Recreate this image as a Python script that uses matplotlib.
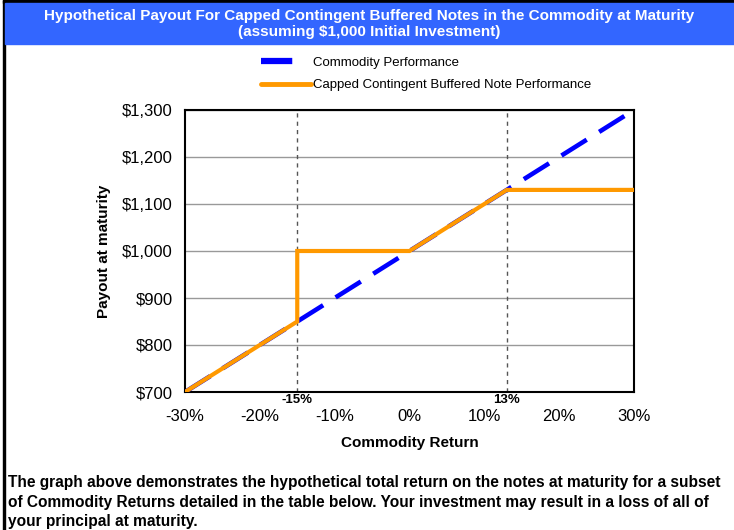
import numpy as np
import matplotlib.pyplot as plt
from matplotlib.lines import Line2D
from matplotlib.patches import Rectangle
from matplotlib.ticker import FuncFormatter

# data
commodity_x = [-30, 30]
commodity_payout = [700, 1300]
note_x = [-30, -15, -15, 0, 13, 30]
note_payout = [700, 850, 1000, 1000, 1130, 1130]
x_ticks = [-30, -20, -10, 0, 10, 20, 30]
y_ticks = [700, 800, 900, 1000, 1100, 1200, 1300]
marker_returns = [-15, 13]
marker_labels = ['-15%', '13%']

title = ('Hypothetical Payout For Capped Contingent Buffered Notes in the Commodity at Maturity\n'
         '(assuming $1,000 Initial Investment)')
footer = ('The graph above demonstrates the hypothetical total return on the notes at maturity for a subset\n'
          'of Commodity Returns detailed in the table below. Your investment may result in a loss of all of\n'
          'your principal at maturity.')

plt.rcParams['font.family'] = ['Liberation Sans', 'DejaVu Sans']

W, H = 734, 530
fig = plt.figure(figsize=(W / 100, H / 100), dpi=100)

# frame and title band
fig.patches.append(Rectangle((3 / W, 0), 2 / W, 1, transform=fig.transFigure, color='black', zorder=0))
fig.patches.append(Rectangle((3 / W, 1 - 3 / H), 1, 3 / H, transform=fig.transFigure, color='black', zorder=0))
fig.patches.append(Rectangle((5 / W, 1 - 44 / H), 1, 41 / H, transform=fig.transFigure,
                             color='#3366FF', zorder=0))
fig.text(0.5 + 2 / W, 1 - 24 / H, title, ha='center', va='center', color='white',
         fontsize=11, fontweight='bold', linespacing=1.2)

ax = fig.add_axes([185 / W, 1 - 392 / H, 449 / W, 282 / H])
ax.plot(commodity_x, commodity_payout, color='#0000FF', lw=3.3, dashes=(6.5, 3.2),
        solid_capstyle='butt', zorder=3)
ax.plot(note_x, note_payout, color='#FF9900', lw=3, zorder=4, solid_joinstyle='miter')

for xv in marker_returns:
    ax.axvline(xv, color='#555555', lw=1, ls=(0, (3, 3)), zorder=2)
for xv, lab in zip(marker_returns, marker_labels):
    ax.text(xv, -0.008, lab, transform=ax.get_xaxis_transform(), ha='center', va='top',
            fontsize=9.5, fontweight='bold')

ax.set_xlim(-30, 30)
ax.set_ylim(700, 1300)
ax.set_xticks(x_ticks)
ax.set_yticks(y_ticks)
ax.xaxis.set_major_formatter(FuncFormatter(lambda v, p: f'{v:.0f}%'))
ax.yaxis.set_major_formatter(FuncFormatter(lambda v, p: f'${v:,.0f}'))
ax.tick_params(length=0, labelsize=12)
ax.tick_params(axis='x', pad=12)
ax.tick_params(axis='y', pad=9)
ax.yaxis.grid(True, color='#999999', lw=1)
ax.set_axisbelow(True)
for s in ax.spines.values():
    s.set_linewidth(1.5)
    s.set_color('black')

ax.set_xlabel('Commodity Return', fontsize=11, fontweight='bold', labelpad=9)
ax.set_ylabel('Payout at maturity', fontsize=11, fontweight='bold', labelpad=8)

handles = [Line2D([], [], color='#0000FF', lw=4.5, dashes=(5, 10), solid_capstyle='butt'),
           Line2D([], [], color='#FF9900', lw=3.5, solid_capstyle='round')]
fig.legend(handles, ['Commodity Performance', 'Capped Contingent Buffered Note Performance'],
           loc='center', bbox_to_anchor=(426 / W, 1 - 74 / H), frameon=False, fontsize=9.5,
           handlelength=3.8, handletextpad=0.15, labelspacing=0.75)

fig.text(8 / W, 1 - 502 / H, footer, ha='left', va='center', fontsize=11.2,
         fontweight='bold', linespacing=1.38)

fig.savefig('out.png', dpi=100)
